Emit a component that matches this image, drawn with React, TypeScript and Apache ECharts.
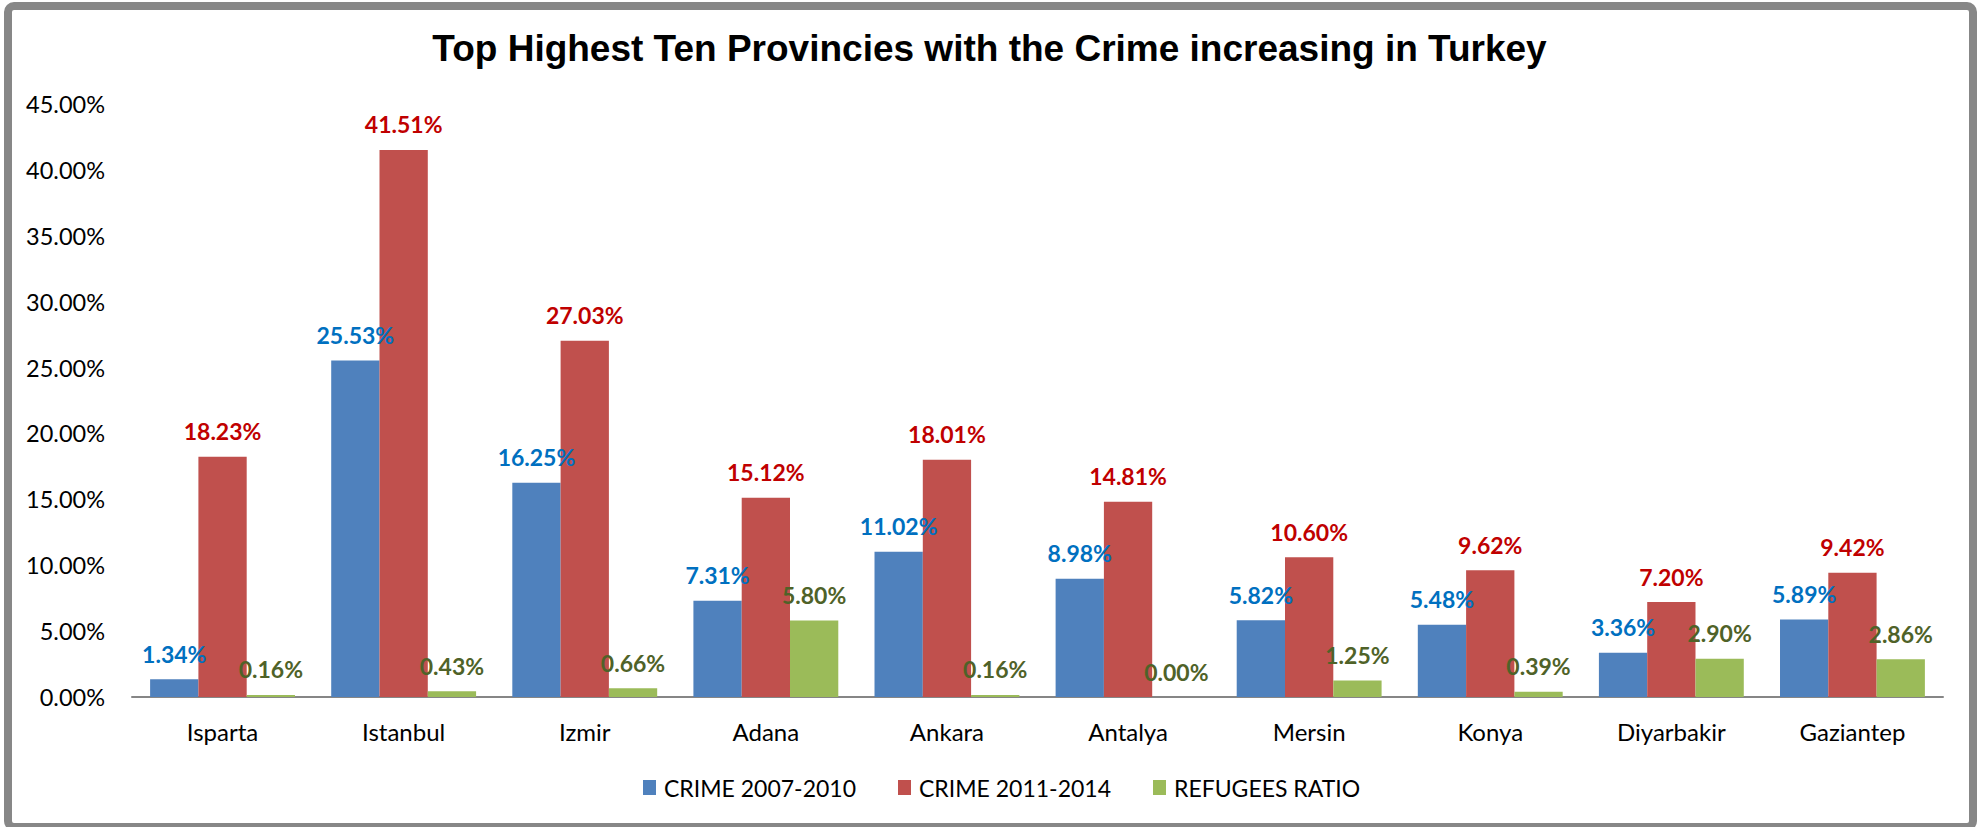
import React, { useEffect, useRef } from "react";
import * as echarts from "echarts";

const provinces = ["Isparta", "Istanbul", "Izmir", "Adana", "Ankara", "Antalya", "Mersin", "Konya", "Diyarbakir", "Gaziantep"];
const crime2007 = [1.34, 25.53, 16.25, 7.31, 11.02, 8.98, 5.82, 5.48, 3.36, 5.89];
const crime2011 = [18.23, 41.51, 27.03, 15.12, 18.01, 14.81, 10.6, 9.62, 7.2, 9.42];
const refugees = [0.16, 0.43, 0.66, 5.8, 0.16, 0.0, 1.25, 0.39, 2.9, 2.86];
const seriesNames = ["CRIME 2007-2010", "CRIME 2011-2014", "REFUGEES RATIO"];
const titleText = "Top Highest Ten Provincies with the Crime increasing in Turkey";

const FONT = "Lato, 'Noto Sans', sans-serif";

export default function App() {
  const ref = useRef<HTMLDivElement>(null);
  useEffect(() => {
    document.body.style.margin = "0";
    const chart = echarts.init(ref.current!, null, { renderer: "svg" });
    const pct = (v: number) => v.toFixed(2) + "%";
    const mkSeries = (name: string, data: number[], color: string, labelColor: string) => ({
      name,
      type: "bar",
      data,
      barGap: "0%",
      barCategoryGap: "20%",
      itemStyle: { color },
      label: {
        show: true,
        position: "top",
        distance: 14,
        formatter: (p: any) => pct(p.value),
        color: labelColor,
        fontFamily: FONT,
        fontWeight: "bold",
        fontSize: 23,
      },
    });
    chart.setOption({
      animation: false,
      backgroundColor: "#ffffff",
      title: {
        text: titleText,
        left: "center",
        top: 30,
        padding: 0,
        textStyle: {
          fontFamily: "'Liberation Sans', Arial, sans-serif",
          fontWeight: "bold",
          fontSize: 37,
          color: "#000000",
        },
      },
      legend: {
        data: seriesNames,
        left: 638,
        top: 771,
        itemWidth: 13,
        itemHeight: 15,
        itemGap: 42,
        icon: "rect",
        textStyle: { fontFamily: FONT, fontSize: 23, color: "#000000", padding: [0, 0, 0, 3] },
      },
      grid: { left: 132, right: 36, top: 104, bottom: 130, containLabel: false },
      xAxis: {
        type: "category",
        data: provinces,
        axisLine: { lineStyle: { color: "#868686", width: 2 } },
        axisTick: { show: false },
        axisLabel: { fontFamily: FONT, fontSize: 24, color: "#000000", margin: 22 },
      },
      yAxis: {
        type: "value",
        min: 0,
        max: 45,
        interval: 5,
        splitLine: { show: false },
        axisLine: { show: false },
        axisTick: { show: false },
        axisLabel: { fontFamily: FONT, fontSize: 23.5, color: "#000000", margin: 27, formatter: (v: number) => pct(v) },
      },
      graphic: [
        {
          type: "rect",
          shape: { x: 8, y: 6, width: 1965, height: 821, r: 6 },
          style: { fill: "none", stroke: "#878787", lineWidth: 8 },
          silent: true,
          z: 100,
        },
      ],
      series: [
        mkSeries(seriesNames[0], crime2007, "#4F81BD", "#0070C0"),
        mkSeries(seriesNames[1], crime2011, "#C0504D", "#C00000"),
        mkSeries(seriesNames[2], refugees, "#9BBB59", "#4F6228"),
      ],
    });
    return () => chart.dispose();
  }, []);
  return <div ref={ref} style={{ width: 1979, height: 827 }} />;
}
